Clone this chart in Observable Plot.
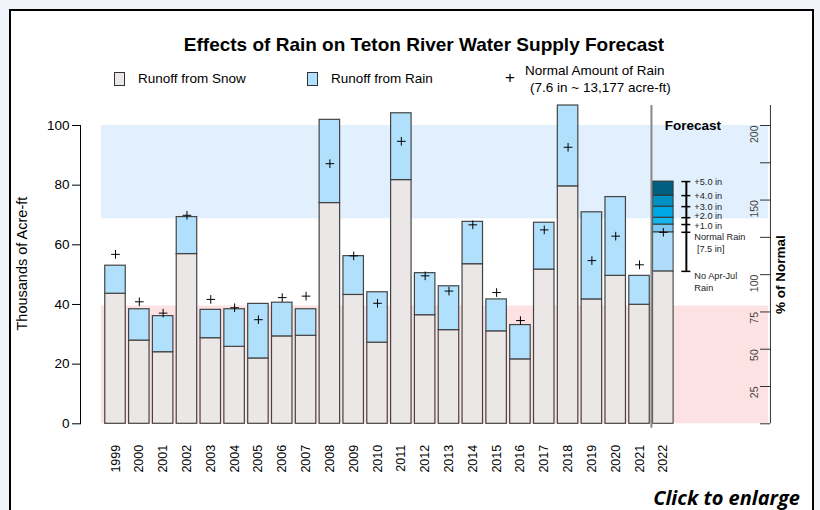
<!DOCTYPE html>
<html><head><meta charset="utf-8">
<script src="https://cdn.jsdelivr.net/npm/d3@7"></script>
<script src="https://cdn.jsdelivr.net/npm/@observablehq/plot@0.6"></script>
<style>
html,body{margin:0;padding:0;width:820px;height:510px;overflow:hidden;background:#f1f5fb;font-family:"Liberation Sans",Arial,sans-serif;color:#000;}
#box{position:absolute;left:9px;top:9px;width:801px;height:560px;border:2.5px solid #000;background:#fff;}
.abs{position:absolute;white-space:nowrap;}
#title{left:424px;top:35px;transform:translateX(-50%);font-size:19px;font-weight:bold;line-height:20px;}
.lbox{position:absolute;width:9px;height:12px;border:1px solid #333;}
.ltxt{position:absolute;white-space:nowrap;font-size:13.5px;line-height:16px;}
#chart{position:absolute;left:0;top:100px;}
#cap{right:20px;top:484px;font-family:"Open Sans",sans-serif;font-weight:bold;font-style:italic;font-size:20px;line-height:28px;}
</style></head><body>
<div id="box"></div>
<div id="title" class="abs">Effects of Rain on Teton River Water Supply Forecast</div>
<div id="legend"></div>
<div id="chart"></div>
<div id="cap" class="abs">Click to enlarge</div>
<script>
// ---- data (thousands of acre-ft) ----
const years      = [1999,2000,2001,2002,2003,2004,2005,2006,2007,2008,2009,2010,2011,2012,2013,2014,2015,2016,2017,2018,2019,2020,2021,2022];
const snowRunoff = [43.6,27.9,24.0,56.9,28.7,25.8,21.9,29.3,29.5,74.0,43.2,27.2,81.7,36.4,31.4,53.5,31.0,21.6,51.7,79.6,41.7,49.6,39.9,null];
const totalRunoff= [53.0,38.4,36.1,69.3,38.2,38.4,40.2,40.6,38.4,101.9,56.2,44.1,104.1,50.5,46.1,67.7,41.7,33.1,67.4,106.7,70.9,76.0,49.6,null];
const normalRain = [56.8,40.9,37.1,69.9,41.7,38.9,34.9,42.3,42.8,87.2,56.3,40.4,94.7,49.6,44.5,66.7,44.0,34.6,65.0,92.7,54.7,62.9,53.3,64.2];
// 2022 forecast levels: no rain, normal rain, +1..+5 in
const fcLevels   = [51.1,64.2,66.8,69.1,72.8,76.5,81.2];
const fcColors   = ["#ebe7e6","#b0defa","#7dc8f0","#16b5ee","#00a9e6","#0090c2","#006080"];
const fcLabels   = ["No Apr-Jul\nRain","Normal Rain\n [7.5 in]","+1.0 in","+2.0 in","+3.0 in","+4.0 in","+5.0 in"];
const leftTicks  = [0,20,40,60,80,100];
const pctTicks   = [0,25,50,75,100,125,150,175,200];
const pctLabels  = [25,50,75,100,150,200];
const normalKaf  = 50;          // 100 % of normal
const lowBand    = [0,39.5];    // below-normal shading
const highBand   = [68.7,100];  // above-normal shading
const legendItems= ["Runoff from Snow","Runoff from Rain"];
const legendFills= ["#ebe7e6","#b0e0fc"];

// ---- legend (HTML) ----
const lg = document.getElementById("legend");
const lx = [[114,138],[307,331]];
legendItems.forEach((t,i)=>{
  const b=document.createElement("div");b.className="lbox";b.style.left=lx[i][0]+"px";b.style.top="72px";b.style.background=legendFills[i];lg.appendChild(b);
  const s=document.createElement("div");s.className="ltxt";s.style.left=lx[i][1]+"px";s.style.top="71px";s.textContent=t;lg.appendChild(s);
});
lg.insertAdjacentHTML("beforeend",
 '<div class="ltxt" style="left:505px;top:70px;font-size:17px;">+</div>'+
 '<div class="ltxt" style="left:525px;top:63px;">Normal Amount of Rain</div>'+
 '<div class="ltxt" style="left:530px;top:80px;">(7.6 in ~ 13,177 acre-ft)</div>');

// ---- chart ----
const Y = years.map(String);
const data = years.map((yr,i)=>({year:String(yr), snow:snowRunoff[i], total:totalRunoff[i], normal:normalRain[i]}));
const hist = data.filter(d=>d.total!=null);
const fcSegs = fcLevels.map((v,i)=>({y1:i?fcLevels[i-1]:0, y2:v, fill:fcColors[i], label:fcLabels[i], lvl:v}));
const fcTop = fcSegs.filter(d=>d.label.includes("\n"));
const fcOne = fcSegs.filter(d=>!d.label.includes("\n") && d.label!=="+1.0 in" && d.label!=="+2.0 in");
const fc1 = fcSegs.filter(d=>d.label==="+1.0 in");
const fc2 = fcSegs.filter(d=>d.label==="+2.0 in");
const fcText = {x:()=>"2022", y:"lvl", text:"label", dx:31, textAnchor:"start", fontSize:9.2, fill:"#222"};

const chart = Plot.plot({
  width:820, height:380, marginLeft:80, marginRight:50, marginTop:25, marginBottom:56.7,
  style:{background:"transparent", fontFamily:"Liberation Sans, Arial, sans-serif", overflow:"visible"},
  x:{type:"band", domain:Y, range:[92.85,685], paddingInner:0.14, paddingOuter:0.5, round:false},
  y:{domain:[0,100], range:[323.3,25]},
  color:{type:"identity"},
  marks:[
    Plot.rect([{y1:lowBand[0],y2:lowBand[1]}], {y1:"y1", y2:"y2", fill:"#fde2e3", insetLeft:21, insetRight:2}),
    Plot.rect([{y1:highBand[0],y2:highBand[1]}], {y1:"y1", y2:"y2", fill:"#e2f0fd", insetLeft:21, insetRight:2}),
    Plot.barY(hist, {x:"year", y1:()=>0, y2:"snow", fill:"#ebe7e6", stroke:"#444", strokeWidth:1.2, inset:0}),
    Plot.barY(hist, {x:"year", y1:"snow", y2:"total", fill:"#b0e0fc", stroke:"#444", strokeWidth:1.2, inset:0}),
    Plot.barY(fcSegs, {x:()=>"2022", y1:"y1", y2:"y2", fill:"fill", stroke:"#333", strokeWidth:1, inset:0}),
    Plot.ruleX([{x:"2022"}], {x:"x", dx:-11.9, y1:()=>-1.5, y2:()=>106.7, stroke:"#888", strokeWidth:2}),
    Plot.dot(data, {x:"year", y:"normal", symbol:"plus", r:2.9, stroke:"#000", strokeWidth:1}),
    // forecast rain scale
    Plot.ruleX([{x:"2022"}], {x:"x", dx:23, y1:()=>fcLevels[0], y2:()=>fcLevels[fcLevels.length-1], stroke:"#000", strokeWidth:2}),
    Plot.tickY(fcSegs, {x:()=>"2022", y:"lvl", dx:23, insetLeft:5.75, insetRight:5.75, stroke:"#000", strokeWidth:1.5}),
    Plot.text(fcOne, fcText),
    Plot.text(fc2, {...fcText, dy:-1.5}),
    Plot.text(fc1, {...fcText, dy:1.5}),
    Plot.text(fcTop, {...fcText, dy:-1, lineAnchor:"top", lineHeight:1.3}),
    Plot.text([{t:"Forecast", y:100}], {x:()=>"2022", y:"y", text:"t", dx:29.5, fontWeight:"bold", fontSize:13.5}),
    // left axis
    Plot.frame({anchor:"left", stroke:"#000"}),
    Plot.axisY({anchor:"left", ticks:leftTicks, tickSize:8, tickPadding:3, fontSize:13.5, label:null, tickFormat:d=>d}),
    Plot.text([{t:"Thousands of Acre-ft", y:53.7}], {y:"y", text:"t", frameAnchor:"left", dx:-58, rotate:-90, textAnchor:"middle", fontSize:14.5}),
    // right axis (% of normal)
    Plot.ruleX([{x:"2022", top:106.7}], {x:"x", dx:107.1, y1:()=>0, y2:"top", stroke:"#333"}),
    Plot.tickY(pctTicks, {y:d=>d*normalKaf/100, insetLeft:680, stroke:"#333"}),
    Plot.text(pctLabels, {y:d=>d*normalKaf/100, text:d=>String(d), frameAnchor:"right", dx:-15.5, rotate:-90, textAnchor:"end", fontSize:10.5, fill:"#444"}),
    Plot.text(["% of Normal"], {frameAnchor:"right", dx:10, rotate:-90, textAnchor:"middle", fontWeight:"bold", fontSize:13.5}),
    // x axis
    Plot.axisX({anchor:"bottom", tickRotate:-90, tickSize:0, tickPadding:21, fontSize:12.5, label:null})
  ]
});
document.getElementById("chart").appendChild(chart);
</script>
</body></html>
